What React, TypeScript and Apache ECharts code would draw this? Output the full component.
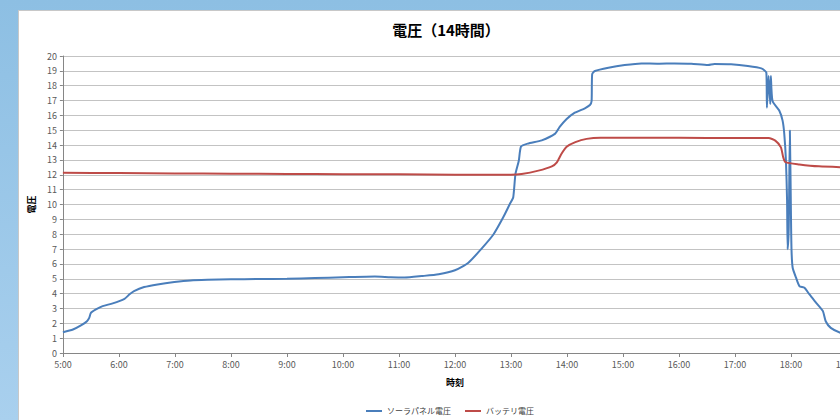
import React, { useEffect, useRef } from "react";
import * as echarts from "echarts";

const titleText = "電圧（14時間）";
const seriesNames = ["ソーラパネル電圧", "バッテリ電圧"];
const xTickHours = [5, 19];

const solarTimes = [
  5.0, 5.18, 5.33, 5.43, 5.47, 5.5, 5.59, 5.71, 5.89, 6.1, 6.19, 6.27, 6.45, 6.69, 6.99, 7.28, 7.58, 8.0, 8.47,
  9.0, 9.5, 10.0, 10.57, 10.85, 11.1, 11.41, 11.71, 12.0, 12.24, 12.48, 12.69, 12.86, 12.98, 13.04, 13.08, 13.14,
  13.18, 13.3, 13.55, 13.79, 13.87, 13.99, 14.14, 14.32, 14.41, 14.44, 14.45, 14.5, 14.74, 15.03, 15.33, 15.63,
  15.92, 16.22, 16.52, 16.63, 16.93, 17.23, 17.47, 17.56, 17.57, 17.6, 17.63, 17.64, 17.67, 17.79, 17.85, 17.88,
  17.91, 17.93, 17.94, 17.96, 17.98, 18.0, 18.01, 18.03, 18.09, 18.15, 18.24, 18.33, 18.45, 18.57, 18.62, 18.71,
  18.89, 19.0,
];
const solarValues = [
  1.4, 1.58, 1.87, 2.14, 2.37, 2.7, 2.93, 3.16, 3.34, 3.65, 3.95, 4.17, 4.44, 4.62, 4.78, 4.89, 4.93, 4.96, 4.98,
  5.0, 5.05, 5.1, 5.15, 5.1, 5.08, 5.18, 5.3, 5.57, 6.08, 7.05, 8.0, 9.12, 10.03, 10.47, 12.05, 12.95,
  13.9, 14.1, 14.32, 14.77, 15.22, 15.74, 16.18, 16.48, 16.7, 16.97, 18.77, 18.99, 19.21, 19.39, 19.5, 19.48,
  19.5, 19.48, 19.39, 19.46, 19.44, 19.33, 19.17, 18.88, 16.52, 18.65, 16.75, 18.65, 16.97, 16.33, 15.65, 14.76,
  12.95, 10.25, 6.99, 8.45, 14.98, 9.12, 6.87, 5.74, 5.07, 4.51, 4.39, 3.94, 3.38, 2.82, 2.14, 1.69,
  1.35, 1.3,
];

const batteryTimes = [
  5.0, 6.0, 7.0, 8.0, 9.0, 10.0, 11.0, 12.0, 13.0, 13.19, 13.49, 13.73, 13.82, 13.9, 14.0, 14.15, 14.35, 14.6,
  15.5, 16.5, 17.6, 17.72, 17.82, 17.86, 17.9, 18.15, 18.5, 19.0,
];
const batteryValues = [
  12.13, 12.12, 12.09, 12.07, 12.06, 12.04, 12.03, 12.01, 12.0, 12.05, 12.28, 12.57, 12.84, 13.4, 13.9, 14.2, 14.42,
  14.5, 14.5, 14.48, 14.48, 14.3, 13.85, 13.2, 12.85, 12.7, 12.57, 12.5,
];

const FONT = "'Noto Sans CJK JP', 'Noto Sans', sans-serif";

export default function App() {
  const ref = useRef<HTMLDivElement>(null);
  useEffect(() => {
    if (!ref.current) return;
    const chart = echarts.init(ref.current, undefined, { renderer: "svg" });
    const solar = solarTimes.map((t, i) => [t, solarValues[i]]);
    const battery = batteryTimes.map((t, i) => [t, batteryValues[i]]);
    chart.setOption({
      animation: false,
      backgroundColor: "#ffffff",
      textStyle: { fontFamily: FONT },
      title: {
        text: titleText,
        left: "center",
        top: 6,
        textStyle: { fontFamily: FONT, fontSize: 15, fontWeight: "bold", color: "#000000" },
      },
      legend: {
        data: seriesNames,
        left: 342,
        top: 391,
        icon: "rect",
        itemWidth: 16,
        itemHeight: 2,
        itemGap: 14,
        textStyle: { fontFamily: FONT, fontSize: 8, color: "#404040" },
      },
      grid: { left: 42, top: 45, width: 786, height: 297 },
      xAxis: {
        type: "value",
        min: xTickHours[0],
        max: xTickHours[1],
        interval: 1,
        name: "時刻",
        nameLocation: "middle",
        nameGap: 25,
        nameTextStyle: { fontFamily: FONT, fontSize: 9, fontWeight: "bold", color: "#000" },
        axisLine: { lineStyle: { color: "#868686", width: 1 } },
        axisTick: { show: true, length: 4, lineStyle: { color: "#868686" } },
        axisLabel: {
          fontSize: 9,
          color: "#595959",
          margin: 7,
          fontFamily: FONT,
          formatter: (v: number) => `${v}:00`,
        },
        splitLine: { show: false },
      },
      yAxis: {
        type: "value",
        min: 0,
        max: 20,
        interval: 1,
        name: "電圧",
        nameLocation: "middle",
        nameRotate: 90,
        nameGap: 18,
        nameTextStyle: { fontFamily: FONT, fontSize: 9, fontWeight: "bold", color: "#000" },
        axisLine: { show: true, lineStyle: { color: "#868686", width: 1 } },
        axisTick: { show: true, length: 3, lineStyle: { color: "#868686" } },
        axisLabel: { fontSize: 9, color: "#595959", margin: 6, fontFamily: FONT },
        splitLine: { show: true, lineStyle: { color: "#c3c3c3", width: 1 } },
      },
      series: [
        {
          name: seriesNames[0],
          type: "line",
          data: solar,
          showSymbol: false,
          smooth: 0.2,
          lineStyle: { color: "#4a7ebb", width: 2 },
          itemStyle: { color: "#4a7ebb" },
        },
        {
          name: seriesNames[1],
          type: "line",
          data: battery,
          showSymbol: false,
          smooth: 0.2,
          lineStyle: { color: "#be4b48", width: 2 },
          itemStyle: { color: "#be4b48" },
        },
      ],
    });
    return () => chart.dispose();
  }, []);

  return (
    <div
      style={{
        position: "absolute",
        left: 0,
        top: 0,
        width: 840,
        height: 420,
        overflow: "hidden",
        background: "linear-gradient(180deg, #8dbfe3 0%, #a9d0ee 100%)",
      }}
    >
      <div
        style={{
          position: "absolute",
          left: 18,
          top: 10,
          width: 854,
          height: 430,
          background: "#fff",
          borderTop: "1px solid #c8c8c8",
          borderLeft: "1px solid #c8c8c8",
        }}
      >
        <div ref={ref} style={{ width: 854, height: 430 }} />
      </div>
    </div>
  );
}
